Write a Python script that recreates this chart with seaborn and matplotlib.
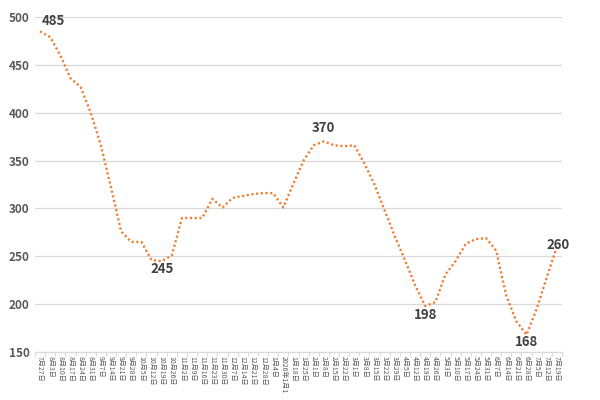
import matplotlib
matplotlib.use("Agg")
import matplotlib.pyplot as plt
import seaborn as sns
import pandas as pd
import numpy as np

weeks = ["7月27日", "8月3日", "8月10日", "8月17日", "8月24日", "8月31日", "9月7日", "9月14日",
         "9月21日", "9月28日", "10月5日", "10月12日", "10月19日", "10月26日", "11月2日", "11月9日",
         "11月16日", "11月23日", "11月30日", "12月7日", "12月14日", "12月21日", "12月28日", "1月4日",
         "2026年1月1", "1月18日", "1月25日", "2月1日", "2月8日", "2月15日", "2月22日", "3月1日",
         "3月8日", "3月15日", "3月22日", "3月29日", "4月5日", "4月12日", "4月19日", "4月26日",
         "5月3日", "5月10日", "5月17日", "5月24日", "5月31日", "6月7日", "6月14日", "6月21日",
         "6月28日", "7月5日", "7月12日", "7月19日"]
prices = [485, 479, 460, 436, 427, 400, 366, 322,
          276, 265, 265, 246, 245, 251, 290, 290,
          290, 310, 301, 311, 313, 315, 316, 316,
          301, 326, 350, 366, 370, 366, 365, 366,
          347, 325, 298, 271, 246, 220, 198, 202,
          231, 245, 263, 268, 269, 256, 209, 182,
          168, 195, 228, 260]
labelled_idx = [0, 12, 28, 38, 48, 51]
label_offsets = {0: (9.5, 7.5), 12: (0, -6), 28: (0, 10), 38: (0, -6.5), 48: (0, -5.5), 51: (1, 1)}

df = pd.DataFrame({"idx": np.arange(len(weeks)), "price": prices})

sns.set_theme(style="white")
plt.rcParams["font.family"] = ["Noto Sans CJK SC", "DejaVu Sans"]

fig = plt.figure(figsize=(6, 4), dpi=100)
ax = fig.add_axes([35 / 600, 1 - 352 / 400, 527 / 600, 335 / 400])

sns.lineplot(data=df, x="idx", y="price", ax=ax, color="#ED7D31",
             linewidth=1.7, linestyle=(0, (0.9, 1.1)), dash_capstyle="butt")

ax.set_xlim(-0.5, len(weeks) - 0.5)
ax.set_ylim(150, 500)
ax.set_yticks(range(150, 501, 50))
ax.yaxis.grid(True, color="#D9D9D9", linewidth=0.9)
ax.set_axisbelow(True)
for s in ["top", "right", "left"]:
    ax.spines[s].set_visible(False)
ax.spines["bottom"].set_color("#D9D9D9")
ax.spines["bottom"].set_linewidth(0.9)

ax.set_xticks(np.arange(len(weeks)))
ax.set_xticklabels(weeks, rotation=270, fontsize=5, color="#595959", va="top", ha="center")
ax.set_xticks(np.arange(len(weeks) + 1) - 0.5, minor=True)
ax.tick_params(axis="x", which="major", length=0, pad=3)
ax.tick_params(axis="x", which="minor", length=3, color="#D9D9D9", width=0.8, bottom=True)
ax.tick_params(axis="y", length=0, labelsize=8.5, labelcolor="#595959", pad=4)
for t in ax.get_yticklabels():
    t.set_fontweight("bold")
ax.set_xlabel("")
ax.set_ylabel("")

for i in labelled_idx:
    dx, dy = label_offsets[i]
    ax.annotate(str(prices[i]), (i, prices[i]), xytext=(dx, dy), textcoords="offset points",
                ha="center", va="center", fontsize=9.5, fontweight="bold", color="#404040")

fig.savefig("out.png", dpi=100)
